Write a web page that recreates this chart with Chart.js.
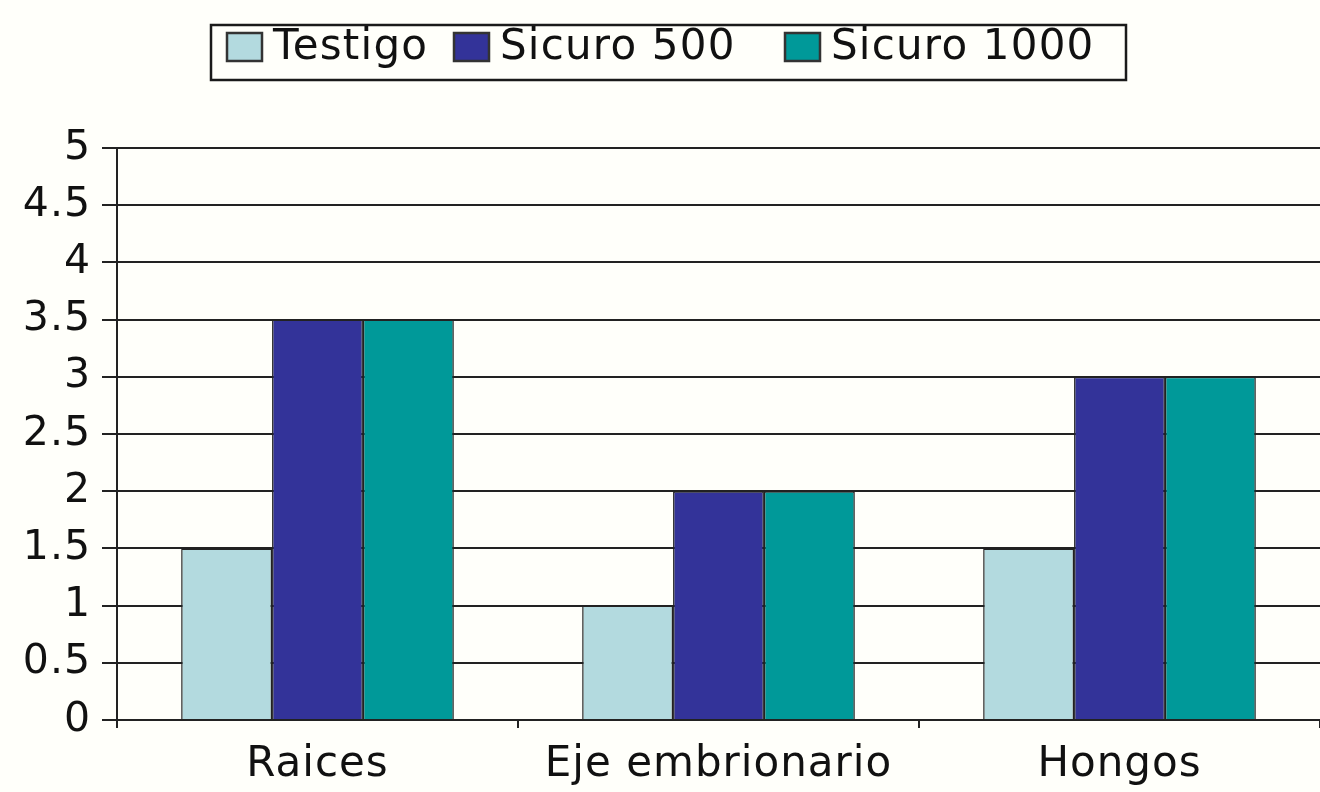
<!DOCTYPE html>
<html><head><meta charset="utf-8">
<script src="https://cdn.jsdelivr.net/npm/chart.js@4.4.1/dist/chart.umd.min.js"></script>
<style>html,body{margin:0;padding:0;background:#fffffa;}#w{width:1320px;height:792px;}</style>
</head><body><div id="w"><canvas id="c"></canvas></div>
<script>
const categories = ["Raices", "Eje embrionario", "Hongos"];
const testigo = [1.5, 1, 1.5];
const sicuro500 = [3.5, 2, 3];
const sicuro1000 = [3.5, 2, 3];
const seriesNames = ["Testigo", "Sicuro 500", "Sicuro 1000"];
const seriesColors = ["#b3dadf", "#333399", "#009999"];
const yTicks = [0, 0.5, 1, 1.5, 2, 2.5, 3, 3.5, 4, 4.5, 5];

const FONT = "'DejaVu Sans', 'Liberation Sans', sans-serif";

const customLegend = {
  id: 'customLegend',
  afterDraw(chart) {
    const ctx = chart.ctx;
    ctx.save();
    ctx.letterSpacing = '1.2px';
    ctx.strokeStyle = '#1a1a1a';
    ctx.lineWidth = 2.5;
    ctx.strokeRect(211, 25, 915, 55);
    ctx.font = "42px " + FONT;
    ctx.textBaseline = 'middle';
    const boxX = [227, 454, 785];
    chart.data.datasets.forEach((d, i) => {
      const x = boxX[i];
      ctx.fillStyle = d.backgroundColor;
      ctx.fillRect(x, 33, 35, 28);
      ctx.strokeStyle = '#333';
      ctx.lineWidth = 2.5;
      ctx.strokeRect(x, 33, 35, 28);
      ctx.fillStyle = '#111';
      ctx.fillText(d.label, x + 46, 48);
    });
    ctx.restore();
  }
};
const bg = {
  id: 'bg',
  beforeDraw(chart) {
    const ctx = chart.ctx;
    ctx.fillStyle = '#fffffa'; ctx.fillRect(0,0,chart.width,chart.height);
    ctx.letterSpacing = '1px';
  },
  afterDraw(chart) { chart.ctx.letterSpacing = '0px'; }
};

new Chart(document.getElementById('c'), {
  type: 'bar',
  data: {
    labels: categories,
    datasets: seriesNames.map((n, i) => ({
      label: n,
      data: [testigo, sicuro500, sicuro1000][i],
      backgroundColor: seriesColors[i],
      borderColor: '#222',
      borderWidth: 1.5
    }))
  },
  options: {
    responsive: true,
    maintainAspectRatio: false,
    animation: false,
    devicePixelRatio: 1,
    layout: {padding: {left: 0, right: 0, top: 148, bottom: 0}},
    datasets: {bar: {categoryPercentage: 0.68, barPercentage: 1.0}},
    plugins: {
      tooltip: {enabled: false},
      legend: {display: false}
    },
    scales: {
      x: {
        afterFit(axis) { axis.height = 72; },
        grid: {display: true, drawOnChartArea: false, drawTicks: true, tickLength: 8, color: '#222', lineWidth: 2, offset: true},
        border: {display: true, color: '#222', width: 2},
        ticks: {color: '#111', font: {family: FONT, size: 42}, padding: 12}
      },
      y: {
        min: 0, max: 5,
        afterBuildTicks(axis) { axis.ticks = yTicks.map(v => ({value: v})); },
        afterFit(axis) { axis.width = 117; },
        grid: {color: '#222', lineWidth: 2, tickLength: 15, drawTicks: true},
        border: {display: true, color: '#222', width: 2},
        ticks: {color: '#111', font: {family: FONT, size: 41}, padding: 11, callback: v => String(v)}
      }
    }
  },
  plugins: [bg, customLegend]
});
</script></body></html>
